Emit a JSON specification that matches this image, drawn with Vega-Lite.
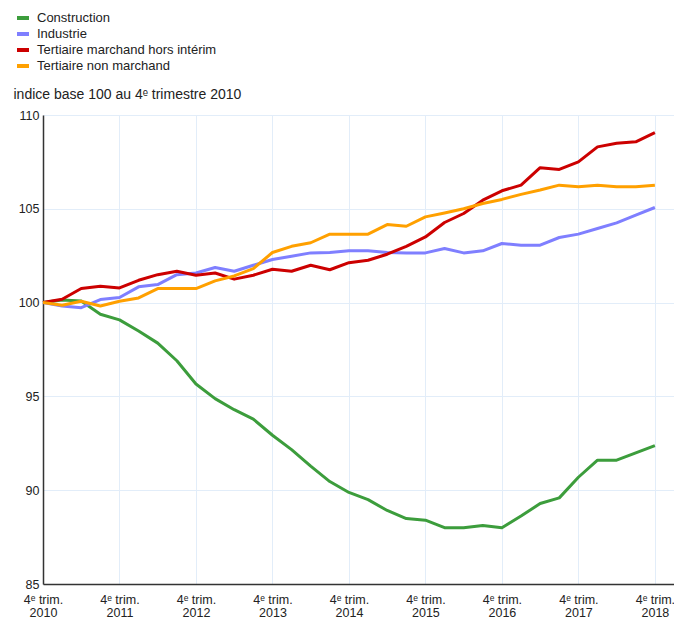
{
  "$schema": "https://vega.github.io/schema/vega-lite/v6.json",
  "width": 631,
  "height": 469,
  "autosize": {"type": "none"},
  "padding": {"left": 43, "top": 115, "right": 0, "bottom": 35},
  "background": "white",
  "config": {"font": "Liberation Sans", "view": {"stroke": null}},
  "data": {
    "values": [
      {"t": 0, "Construction": 100, "Industrie": 100, "Tertiaire marchand hors intérim": 100, "Tertiaire non marchand": 100},
      {"t": 1, "Construction": 100.14, "Industrie": 99.82, "Tertiaire marchand hors intérim": 100.18, "Tertiaire non marchand": 99.86},
      {"t": 2, "Construction": 100.09, "Industrie": 99.73, "Tertiaire marchand hors intérim": 100.75, "Tertiaire non marchand": 100.07},
      {"t": 3, "Construction": 99.38, "Industrie": 100.16, "Tertiaire marchand hors intérim": 100.87, "Tertiaire non marchand": 99.82},
      {"t": 4, "Construction": 99.08, "Industrie": 100.27, "Tertiaire marchand hors intérim": 100.78, "Tertiaire non marchand": 100.07},
      {"t": 5, "Construction": 98.49, "Industrie": 100.84, "Tertiaire marchand hors intérim": 101.19, "Tertiaire non marchand": 100.25},
      {"t": 6, "Construction": 97.84, "Industrie": 100.96, "Tertiaire marchand hors intérim": 101.49, "Tertiaire non marchand": 100.75},
      {"t": 7, "Construction": 96.9, "Industrie": 101.49, "Tertiaire marchand hors intérim": 101.67, "Tertiaire non marchand": 100.75},
      {"t": 8, "Construction": 95.66, "Industrie": 101.58, "Tertiaire marchand hors intérim": 101.46, "Tertiaire non marchand": 100.75},
      {"t": 9, "Construction": 94.88, "Industrie": 101.87, "Tertiaire marchand hors intérim": 101.58, "Tertiaire non marchand": 101.16},
      {"t": 10, "Construction": 94.29, "Industrie": 101.67, "Tertiaire marchand hors intérim": 101.25, "Tertiaire non marchand": 101.42},
      {"t": 11, "Construction": 93.79, "Industrie": 101.99, "Tertiaire marchand hors intérim": 101.46, "Tertiaire non marchand": 101.81},
      {"t": 12, "Construction": 92.93, "Industrie": 102.3, "Tertiaire marchand hors intérim": 101.78, "Tertiaire non marchand": 102.67},
      {"t": 13, "Construction": 92.16, "Industrie": 102.47, "Tertiaire marchand hors intérim": 101.67, "Tertiaire non marchand": 103.0},
      {"t": 14, "Construction": 91.28, "Industrie": 102.65, "Tertiaire marchand hors intérim": 101.99, "Tertiaire non marchand": 103.19},
      {"t": 15, "Construction": 90.46, "Industrie": 102.67, "Tertiaire marchand hors intérim": 101.75, "Tertiaire non marchand": 103.65},
      {"t": 16, "Construction": 89.88, "Industrie": 102.76, "Tertiaire marchand hors intérim": 102.13, "Tertiaire non marchand": 103.65},
      {"t": 17, "Construction": 89.5, "Industrie": 102.76, "Tertiaire marchand hors intérim": 102.26, "Tertiaire non marchand": 103.65},
      {"t": 18, "Construction": 88.92, "Industrie": 102.67, "Tertiaire marchand hors intérim": 102.58, "Tertiaire non marchand": 104.16},
      {"t": 19, "Construction": 88.49, "Industrie": 102.65, "Tertiaire marchand hors intérim": 103.0, "Tertiaire non marchand": 104.07},
      {"t": 20, "Construction": 88.4, "Industrie": 102.65, "Tertiaire marchand hors intérim": 103.5, "Tertiaire non marchand": 104.57},
      {"t": 21, "Construction": 88.0, "Industrie": 102.88, "Tertiaire marchand hors intérim": 104.27, "Tertiaire non marchand": 104.78},
      {"t": 22, "Construction": 88.0, "Industrie": 102.65, "Tertiaire marchand hors intérim": 104.75, "Tertiaire non marchand": 105.0},
      {"t": 23, "Construction": 88.12, "Industrie": 102.76, "Tertiaire marchand hors intérim": 105.46, "Tertiaire non marchand": 105.28},
      {"t": 24, "Construction": 88.0, "Industrie": 103.15, "Tertiaire marchand hors intérim": 105.96, "Tertiaire non marchand": 105.5},
      {"t": 25, "Construction": 88.62, "Industrie": 103.06, "Tertiaire marchand hors intérim": 106.26, "Tertiaire non marchand": 105.77},
      {"t": 26, "Construction": 89.29, "Industrie": 103.06, "Tertiaire marchand hors intérim": 107.19, "Tertiaire non marchand": 106.0},
      {"t": 27, "Construction": 89.59, "Industrie": 103.47, "Tertiaire marchand hors intérim": 107.1, "Tertiaire non marchand": 106.26},
      {"t": 28, "Construction": 90.69, "Industrie": 103.65, "Tertiaire marchand hors intérim": 107.5, "Tertiaire non marchand": 106.17},
      {"t": 29, "Construction": 91.6, "Industrie": 103.95, "Tertiaire marchand hors intérim": 108.3, "Tertiaire non marchand": 106.26},
      {"t": 30, "Construction": 91.6, "Industrie": 104.25, "Tertiaire marchand hors intérim": 108.49, "Tertiaire non marchand": 106.17},
      {"t": 31, "Construction": 91.99, "Industrie": 104.66, "Tertiaire marchand hors intérim": 108.57, "Tertiaire non marchand": 106.17},
      {"t": 32, "Construction": 92.38, "Industrie": 105.07, "Tertiaire marchand hors intérim": 109.06, "Tertiaire non marchand": 106.26}
    ]
  },
  "transform": [
    {"fold": ["Construction", "Industrie", "Tertiaire marchand hors intérim", "Tertiaire non marchand"], "as": ["serie", "valeur"]}
  ],
  "mark": {"type": "line", "strokeWidth": 3, "strokeJoin": "round"},
  "encoding": {
    "x": {
      "field": "t",
      "type": "quantitative",
      "scale": {"domain": [0, 33], "nice": false, "zero": false},
      "axis": {
        "values": [0, 4, 8, 12, 16, 20, 24, 28, 32],
        "labelExpr": "['4ᵉ trim.', toString(2010 + datum.value / 4)]",
        "title": null,
        "grid": true,
        "gridColor": "#e2edf9",
        "gridWidth": 1,
        "domainColor": "#333333",
        "domainWidth": 1.5,
        "ticks": false,
        "labelPadding": 9,
        "labelFontSize": 12.5,
        "labelColor": "#222222",
        "labelLineHeight": 13,
        "labelFlush": false,
        "labelOverlap": false
      }
    },
    "y": {
      "field": "valeur",
      "type": "quantitative",
      "scale": {"domain": [85, 110], "nice": false, "zero": false},
      "axis": {
        "values": [85, 90, 95, 100, 105, 110],
        "grid": true,
        "gridColor": "#e2edf9",
        "gridWidth": 1,
        "domainColor": "#333333",
        "domainWidth": 1.5,
        "ticks": false,
        "labelPadding": 4,
        "labelFontSize": 12.5,
        "labelColor": "#222222",
        "title": "indice base 100 au 4ᵉ trimestre 2010",
        "titleAngle": 0,
        "titleX": -30,
        "titleY": -17,
        "titleAlign": "left",
        "titleBaseline": "alphabetic",
        "titleFontSize": 14,
        "titleFontWeight": "normal",
        "titleColor": "#222222"
      }
    },
    "color": {
      "field": "serie",
      "type": "nominal",
      "scale": {
        "domain": ["Construction", "Industrie", "Tertiaire marchand hors intérim", "Tertiaire non marchand"],
        "range": ["#3c9d3c", "#7f7fff", "#cc0000", "#ffa000"]
      },
      "legend": {
        "title": null,
        "orient": "none",
        "legendX": -28,
        "legendY": -105,
        "symbolType": "stroke",
        "symbolStrokeWidth": 4,
        "symbolSize": 144,
        "labelFontSize": 13,
        "labelColor": "#222222",
        "labelLimit": 0,
        "rowPadding": 0,
        "labelOffset": 6
      }
    }
  }
}
